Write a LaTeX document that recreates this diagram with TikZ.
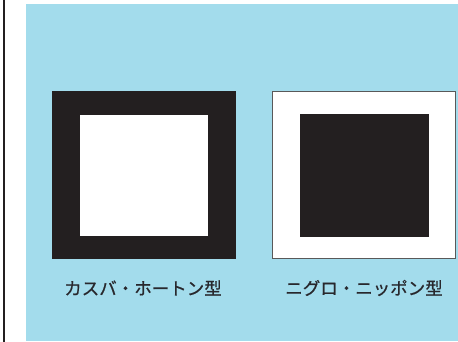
\documentclass[tikz,border=0pt]{standalone}
\usepackage{fontspec}
\newfontfamily\jp[FakeBold=0.8]{Noto Sans CJK JP}
\definecolor{bgblue}{RGB}{163,220,236}
\definecolor{ink}{RGB}{35,31,32}
\definecolor{txt}{RGB}{40,40,45}
\begin{document}
\begin{tikzpicture}[x=1pt,y=1pt,
  lbl/.style={font=\jp\fontsize{17.5}{20}\selectfont, text=txt, inner sep=0pt}]
\useasboundingbox (0,0) rectangle (458,342);
\fill[white] (0,0) rectangle (458,342);
\fill[bgblue] (26,1) rectangle (458,338);
\draw[ink, line width=2.2pt] (3.6,0) -- (3.6,342);
% left: Kasuba Horton
\fill[ink] (52,83) rectangle (236,251);
\fill[white] (80,106) rectangle (208,227);
% right: Nigro Nippon
\filldraw[fill=white, draw=black!65, line width=0.6pt] (272.5,83.5) rectangle (455.5,250.5);
\fill[ink] (300,105) rectangle (429,228);
\node[lbl] (l1) at (143,54) {カスバ・ホートン型};
\node[lbl] (l2) at (364,54) {ニグロ・ニッポン型};
\end{tikzpicture}
\end{document}
